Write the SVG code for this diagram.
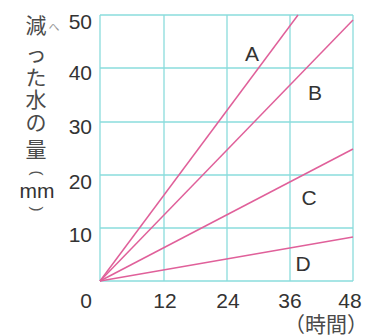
<svg xmlns="http://www.w3.org/2000/svg" width="382" height="335" viewBox="0 0 382 335">
<style>
.grid line{stroke:#8adcdc;stroke-width:1.3}
.conn line{stroke:#e0609a;stroke-width:1.5}
.num{font-family:"Liberation Sans",Arial,sans-serif;font-size:21px;fill:#333}
.lbl{font-family:"Liberation Sans",Arial,sans-serif;font-size:21px;fill:#333;text-anchor:middle}
.jp{font-family:"Noto Sans CJK JP",sans-serif;font-size:21px;fill:#4a4a4a;text-anchor:middle}
.br{font-family:"Liberation Sans",Arial,sans-serif;font-size:15px;fill:#555;text-anchor:middle;dominant-baseline:central}
</style>
<rect width="382" height="335" fill="#fff"/>
<g class="grid" id="grid">
<line x1="100" y1="15" x2="353" y2="15"/>
<line x1="100" y1="68" x2="353" y2="68"/>
<line x1="100" y1="122" x2="353" y2="122"/>
<line x1="100" y1="175" x2="353" y2="175"/>
<line x1="100" y1="228" x2="353" y2="228"/>
<line x1="100" y1="281" x2="353" y2="281"/>
<line x1="100" y1="15" x2="100" y2="281"/>
<line x1="164" y1="15" x2="164" y2="281"/>
<line x1="227" y1="15" x2="227" y2="281"/>
<line x1="290" y1="15" x2="290" y2="281"/>
<line x1="353" y1="15" x2="353" y2="281"/>
</g>
<g class="conn" id="connectors">
<line x1="100" y1="281" x2="298" y2="15"/>
<line x1="100" y1="281" x2="353" y2="20"/>
<line x1="100" y1="281" x2="353" y2="149"/>
<line x1="100" y1="281" x2="353" y2="237"/>
</g>
<g id="label-A"><text class="lbl" x="252" y="61">A</text></g>
<g id="label-B"><text class="lbl" x="315" y="100">B</text></g>
<g id="label-C"><text class="lbl" x="309" y="205">C</text></g>
<g id="label-D"><text class="lbl" x="303" y="271">D</text></g>
<g id="y-axis" class="num" text-anchor="end">
<text x="92" y="29">50</text>
<text x="92" y="80">40</text>
<text x="92" y="134">30</text>
<text x="92" y="189">20</text>
<text x="92" y="242">10</text>
</g>
<g id="x-axis" class="num" text-anchor="middle">
<text x="86" y="308">0</text>
<text x="165" y="308">12</text>
<text x="228" y="308">24</text>
<text x="290" y="308">36</text>
<text x="350" y="308">48</text>
</g>
<g id="x-title"><text class="jp" x="326" y="332" font-size="19">（時間）</text></g>
<g id="y-title">
<text class="jp" x="36" y="33">減</text>
<text x="54" y="31" font-family="Noto Sans CJK JP,sans-serif" font-size="11" fill="#999" text-anchor="middle">へ</text>
<text class="jp" x="36" y="61">っ</text>
<text class="jp" x="36" y="85">た</text>
<text class="jp" x="36" y="107">水</text>
<text class="jp" x="36" y="130">の</text>
<text class="jp" x="36" y="157">量</text>
<text class="br" transform="translate(37,173) rotate(90)">(</text>
<text class="num" x="37" y="198" text-anchor="middle">mm</text>
<text class="br" transform="translate(37,209) rotate(90)">)</text>
</g>
</svg>
